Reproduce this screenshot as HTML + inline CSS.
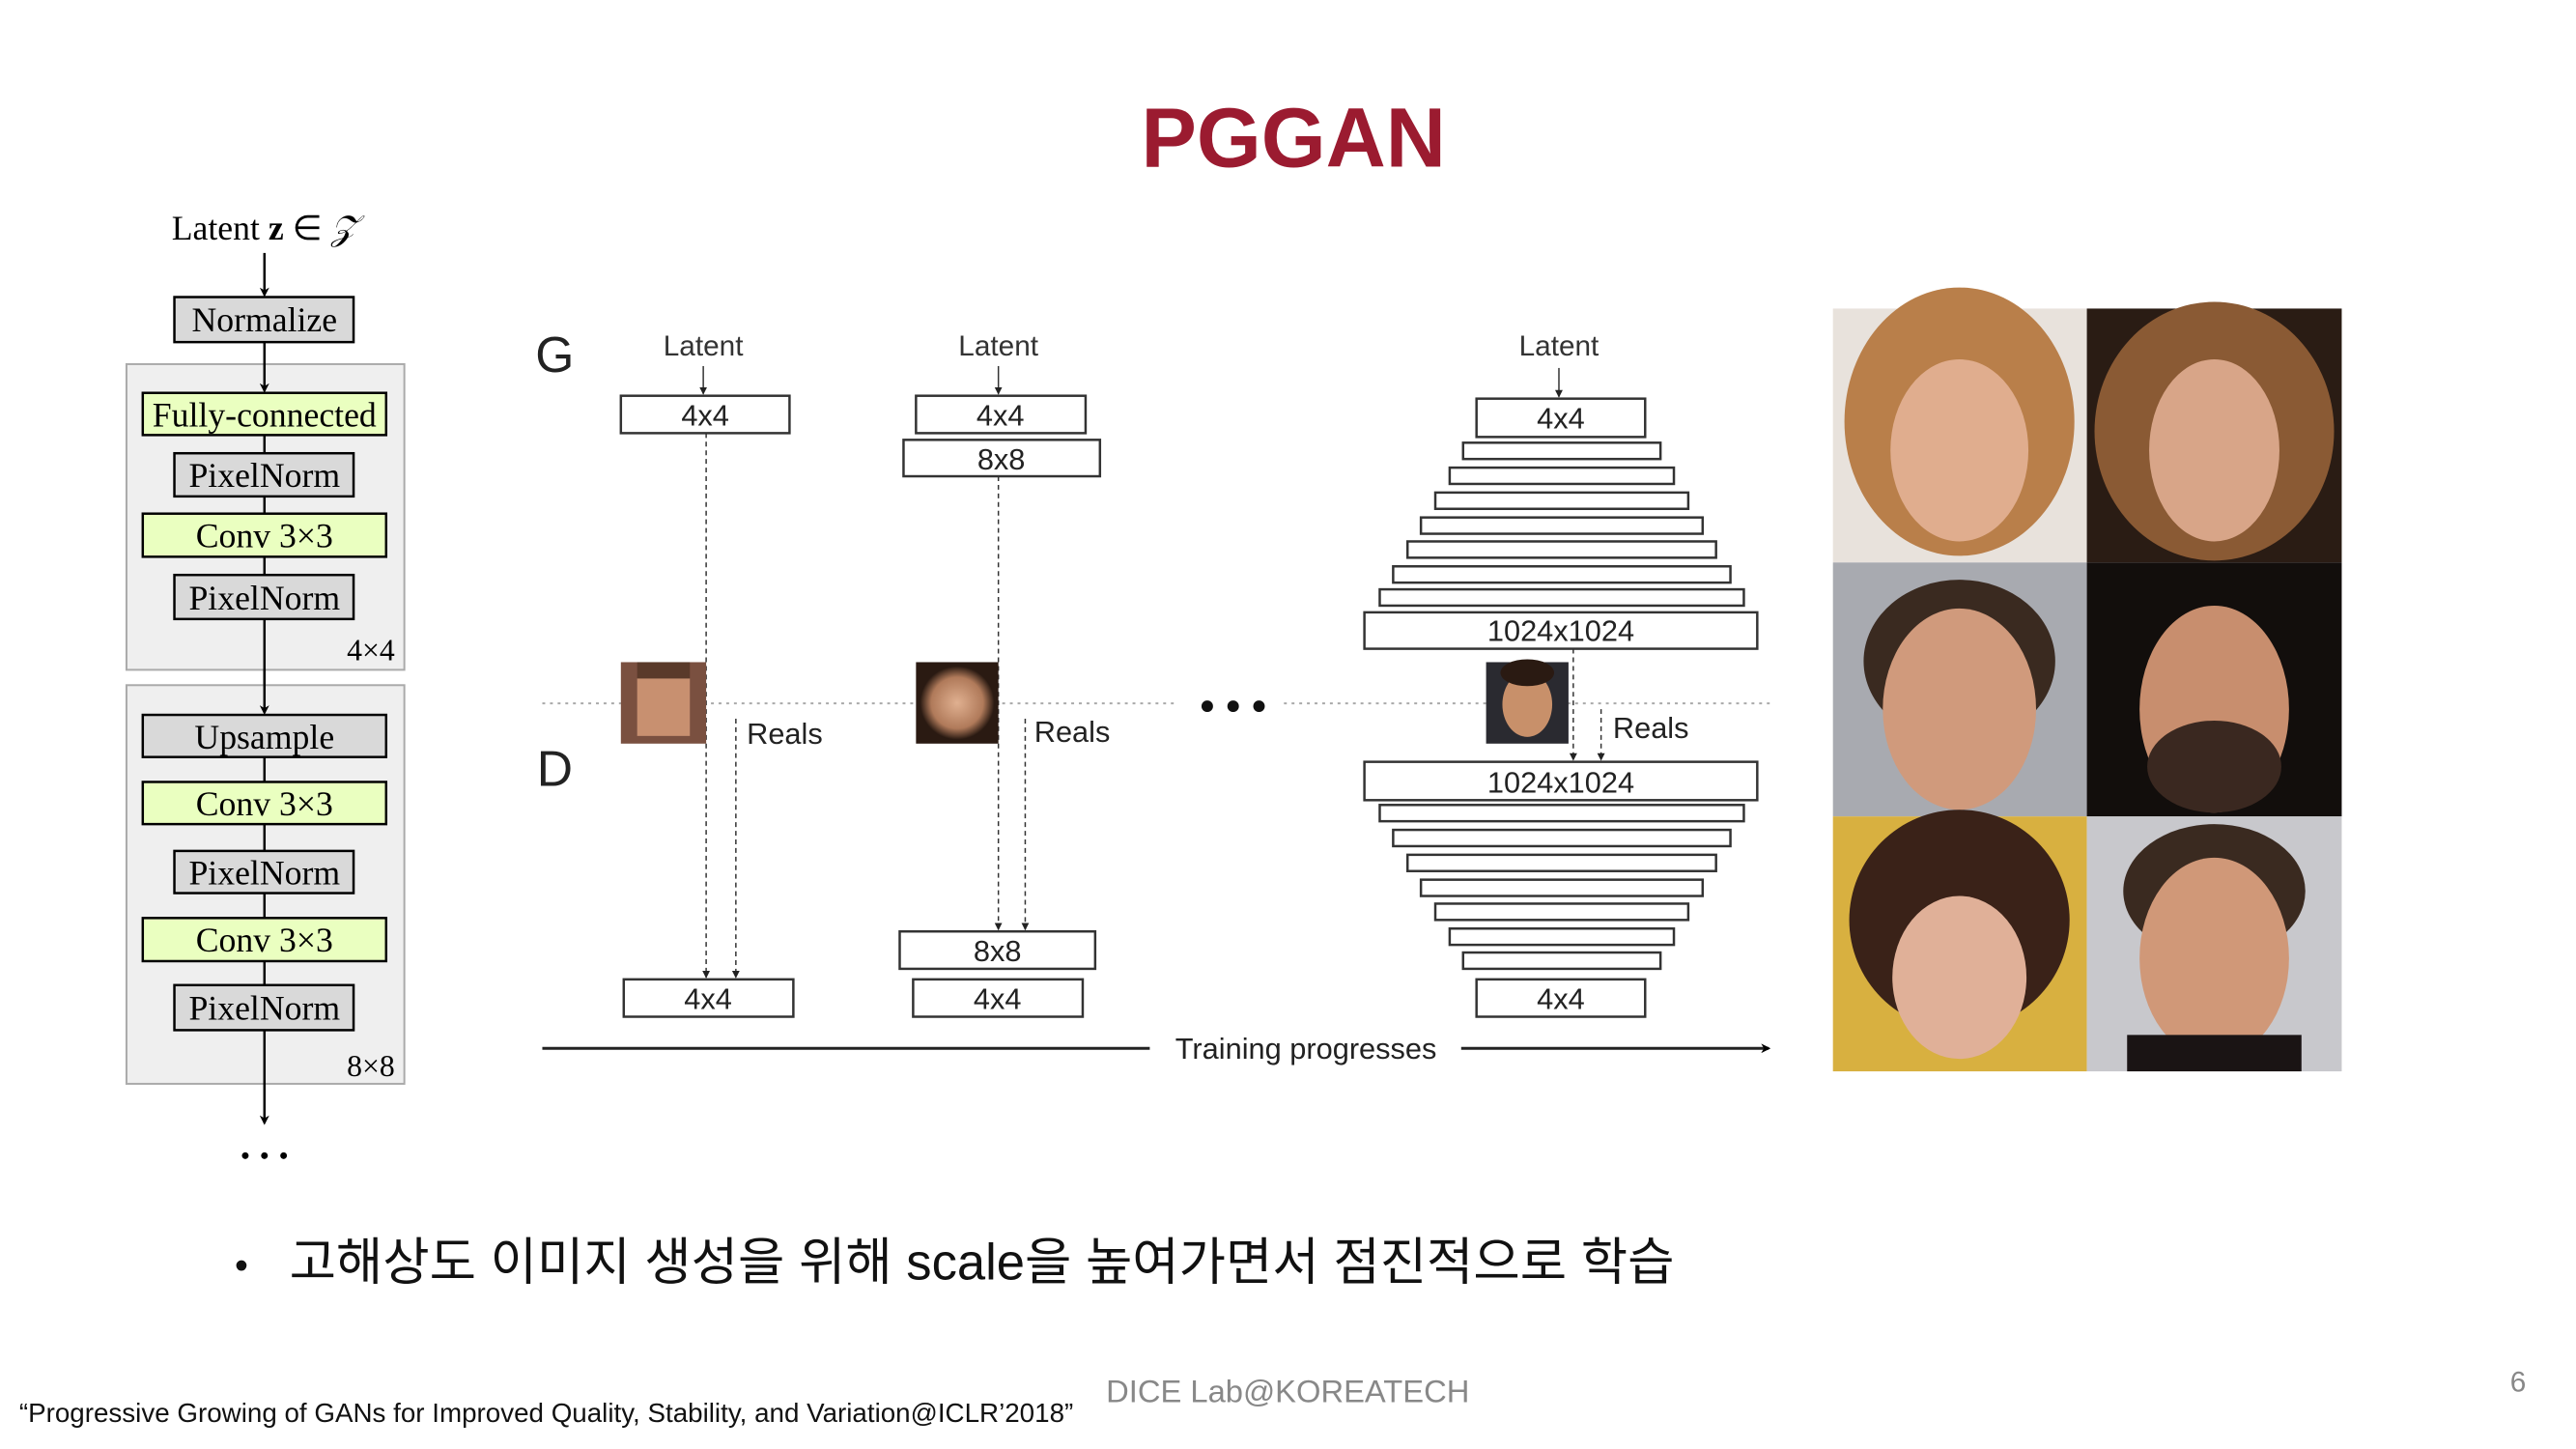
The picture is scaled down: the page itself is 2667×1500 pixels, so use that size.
<!DOCTYPE html>
<html><head><meta charset="utf-8"><style>
html,body{margin:0;padding:0;background:#fff;}
body{width:2667px;height:1500px;overflow:hidden;position:relative;}
svg{position:absolute;left:0;top:0;}
</style></head><body>
<svg width="2667" height="1500" viewBox="0 0 2667 1500" xmlns="http://www.w3.org/2000/svg">
<defs>
<marker id="ar" markerWidth="10" markerHeight="10" refX="8" refY="5" orient="auto" markerUnits="userSpaceOnUse"><path d="M0,0 L10,5 L0,10 L3,5 Z" fill="#000"/></marker>
<marker id="as" markerWidth="8" markerHeight="8" refX="7" refY="4" orient="auto" markerUnits="userSpaceOnUse"><path d="M0,0 L8,4 L0,8 Z" fill="#222"/></marker>
<radialGradient id="fb" cx="50%" cy="50%" r="45%"><stop offset="0" stop-color="#e0b090"/><stop offset="0.7" stop-color="#b07a5a"/><stop offset="1" stop-color="#2a1a12"/></radialGradient>
</defs>
<g transform="scale(0.992)">
<text x="1350" y="174" font-family="Liberation Sans, sans-serif" font-weight="bold" font-size="88" fill="#9b1b30" text-anchor="middle" textLength="318" lengthAdjust="spacingAndGlyphs">PGGAN</text>

<g font-family="Liberation Serif, serif" font-size="36" text-anchor="middle">
<text x="276" y="250">Latent <tspan font-weight="bold">z</tspan> ∈ <tspan font-style="italic">𝒵</tspan></text>
<line x1="276" y1="264" x2="276" y2="308" stroke="#000" stroke-width="2.5" marker-end="url(#ar)"/>
<rect x="182" y="310" width="187" height="47" fill="#d9d9d9" stroke="#000" stroke-width="2.5"/>
<text x="276" y="346">Normalize</text>
<rect x="132" y="380" width="290" height="319" fill="#efefef" stroke="#aaa" stroke-width="2"/>
<line x1="276" y1="357" x2="276" y2="408" stroke="#000" stroke-width="2.5" marker-end="url(#ar)"/>
<line x1="276" y1="454" x2="276" y2="715" stroke="#000" stroke-width="2.5"/>
<rect x="149" y="410" width="254" height="44" fill="#eaffc0" stroke="#000" stroke-width="2.5"/>
<text x="276" y="445">Fully-connected</text>
<rect x="182" y="473" width="187" height="45" fill="#d9d9d9" stroke="#000" stroke-width="2.5"/>
<text x="276" y="508">PixelNorm</text>
<rect x="149" y="536" width="254" height="45" fill="#eaffc0" stroke="#000" stroke-width="2.5"/>
<text x="276" y="571">Conv 3×3</text>
<rect x="182" y="600" width="187" height="46" fill="#d9d9d9" stroke="#000" stroke-width="2.5"/>
<text x="276" y="636">PixelNorm</text>
<text x="387" y="689" font-size="32">4×4</text>
<rect x="132" y="715" width="290" height="416" fill="#efefef" stroke="#aaa" stroke-width="2"/>
<line x1="276" y1="699" x2="276" y2="744" stroke="#000" stroke-width="2.5" marker-end="url(#ar)"/>
<line x1="276" y1="790" x2="276" y2="1131" stroke="#000" stroke-width="2.5"/>
<rect x="149" y="746" width="254" height="44" fill="#d9d9d9" stroke="#000" stroke-width="2.5"/>
<text x="276" y="781">Upsample</text>
<rect x="149" y="816" width="254" height="44" fill="#eaffc0" stroke="#000" stroke-width="2.5"/>
<text x="276" y="851">Conv 3×3</text>
<rect x="182" y="888" width="187" height="44" fill="#d9d9d9" stroke="#000" stroke-width="2.5"/>
<text x="276" y="923">PixelNorm</text>
<rect x="149" y="958" width="254" height="45" fill="#eaffc0" stroke="#000" stroke-width="2.5"/>
<text x="276" y="993">Conv 3×3</text>
<rect x="182" y="1028" width="187" height="47" fill="#d9d9d9" stroke="#000" stroke-width="2.5"/>
<text x="276" y="1064">PixelNorm</text>
<text x="387" y="1123" font-size="32">8×8</text>
<line x1="276" y1="1131" x2="276" y2="1172" stroke="#000" stroke-width="2.5" marker-end="url(#ar)"/>
<circle cx="256" cy="1206" r="3.5"/><circle cx="276" cy="1206" r="3.5"/><circle cx="296" cy="1206" r="3.5"/>
</g>

<g font-family="Liberation Sans, sans-serif" fill="none" stroke="#333" stroke-width="2.5">
<text x="579" y="388" font-size="52" fill="#222" stroke="none" text-anchor="middle">G</text>
<text x="579" y="820" font-size="52" fill="#222" stroke="none" text-anchor="middle">D</text>
<g font-size="30" fill="#333" stroke="none" text-anchor="middle">
<text x="734" y="371">Latent</text><text x="1042" y="371">Latent</text><text x="1627" y="371">Latent</text>
</g>
<line x1="734" y1="382" x2="734" y2="411" stroke-width="1.5" marker-end="url(#as)"/>
<line x1="1042" y1="382" x2="1042" y2="411" stroke-width="1.5" marker-end="url(#as)"/>
<line x1="1627" y1="384" x2="1627" y2="414" stroke-width="1.5" marker-end="url(#as)"/>
<line x1="566" y1="734" x2="1230" y2="734" stroke="#aaa" stroke-width="2" stroke-dasharray="3,5"/>
<line x1="1340" y1="734" x2="1848" y2="734" stroke="#aaa" stroke-width="2" stroke-dasharray="3,5"/>
<circle cx="1260" cy="737" r="6" fill="#111" stroke="none"/><circle cx="1287" cy="737" r="6" fill="#111" stroke="none"/><circle cx="1314" cy="737" r="6" fill="#111" stroke="none"/>
<rect x="648" y="413" width="176" height="39"/>
<line x1="737" y1="452" x2="737" y2="1020" stroke-width="1.5" stroke-dasharray="5,4" marker-end="url(#as)"/>
<line x1="768" y1="750" x2="768" y2="1020" stroke-width="1.5" stroke-dasharray="5,4" marker-end="url(#as)"/>
<rect x="651" y="1022" width="177" height="39"/>
<rect x="956" y="413" width="177" height="39"/>
<rect x="943" y="459" width="205" height="38"/>
<line x1="1042" y1="497" x2="1042" y2="970" stroke-width="1.5" stroke-dasharray="5,4" marker-end="url(#as)"/>
<line x1="1070" y1="750" x2="1070" y2="970" stroke-width="1.5" stroke-dasharray="5,4" marker-end="url(#as)"/>
<rect x="939" y="972" width="204" height="39"/>
<rect x="953" y="1022" width="177" height="39"/>
<rect x="1541" y="416" width="176" height="40"/>
<rect x="1527" y="462" width="206" height="17"/>
<rect x="1513" y="488" width="234" height="17"/>
<rect x="1498" y="514" width="264" height="17"/>
<rect x="1483" y="540" width="294" height="17"/>
<rect x="1469" y="565" width="322" height="17"/>
<rect x="1454" y="591" width="352" height="17"/>
<rect x="1440" y="615" width="380" height="17"/>
<rect x="1424" y="639" width="410" height="38"/>
<line x1="1642" y1="677" x2="1642" y2="793" stroke-width="1.5" stroke-dasharray="5,4" marker-end="url(#as)"/>
<line x1="1671" y1="740" x2="1671" y2="793" stroke-width="1.5" stroke-dasharray="5,4" marker-end="url(#as)"/>
<rect x="1424" y="795" width="410" height="40"/>
<rect x="1440" y="840" width="380" height="17"/>
<rect x="1454" y="866" width="352" height="17"/>
<rect x="1469" y="892" width="322" height="17"/>
<rect x="1483" y="918" width="294" height="17"/>
<rect x="1498" y="943" width="264" height="17"/>
<rect x="1513" y="969" width="234" height="17"/>
<rect x="1527" y="994" width="206" height="17"/>
<rect x="1541" y="1022" width="176" height="39"/>
<g font-size="31" fill="#222" stroke="none" text-anchor="middle">
<text x="736" y="444">4x4</text><text x="1044" y="444">4x4</text><text x="1045" y="490">8x8</text>
<text x="1629" y="447">4x4</text><text x="1629" y="669">1024x1024</text><text x="1629" y="827">1024x1024</text>
<text x="1629" y="1053">4x4</text><text x="739" y="1053">4x4</text><text x="1041" y="1003">8x8</text><text x="1041" y="1053">4x4</text>
<text x="819" y="776">Reals</text><text x="1119" y="774">Reals</text><text x="1723" y="770">Reals</text>
<text x="1363" y="1105">Training progresses</text>
</g>
<line x1="566" y1="1094" x2="1200" y2="1094" stroke="#222" stroke-width="3"/>
<line x1="1525" y1="1094" x2="1846" y2="1094" stroke="#222" stroke-width="3" marker-end="url(#ar)"/>
</g>
<rect x="648" y="691" width="89" height="85" fill="#7a5040"/>
<rect x="665" y="708" width="55" height="60" fill="#c89070"/>
<rect x="665" y="691" width="55" height="17" fill="#5a3a2a"/>
<rect x="956" y="691" width="86" height="85" fill="url(#fb)"/>
<rect x="1551" y="691" width="86" height="85" fill="#2a2a30"/>
<ellipse cx="1594" cy="735" rx="26" ry="34" fill="#c8906a"/>
<ellipse cx="1594" cy="702" rx="28" ry="14" fill="#2a1a12"/>

<g>
<rect x="1913" y="322" width="265" height="265" fill="#e8e2dc"/>
<ellipse cx="2045" cy="440" rx="120" ry="140" fill="#b97f4a"/>
<ellipse cx="2045" cy="470" rx="72" ry="95" fill="#e0ad8e"/>
<rect x="2178" y="322" width="266" height="265" fill="#2a1c14"/>
<ellipse cx="2311" cy="450" rx="125" ry="135" fill="#8a5a34"/>
<ellipse cx="2311" cy="470" rx="68" ry="95" fill="#d8a588"/>
<rect x="1913" y="587" width="265" height="265" fill="#a8aab0"/>
<ellipse cx="2045" cy="690" rx="100" ry="85" fill="#3a2a20"/>
<ellipse cx="2045" cy="740" rx="80" ry="105" fill="#d09a7c"/>
<rect x="2178" y="587" width="266" height="265" fill="#120e0c"/>
<ellipse cx="2311" cy="740" rx="78" ry="108" fill="#c88e6e"/>
<ellipse cx="2311" cy="800" rx="70" ry="48" fill="#3a2820"/>
<rect x="1913" y="852" width="265" height="266" fill="#d8b040"/>
<ellipse cx="2045" cy="960" rx="115" ry="115" fill="#3a2218"/>
<ellipse cx="2045" cy="1020" rx="70" ry="85" fill="#e0b098"/>
<rect x="2178" y="852" width="266" height="266" fill="#c8c8cc"/>
<ellipse cx="2311" cy="930" rx="95" ry="70" fill="#3a2a20"/>
<ellipse cx="2311" cy="1000" rx="78" ry="105" fill="#d09878"/>
<rect x="2220" y="1080" width="182" height="38" fill="#1a1414"/>
</g>

<g font-family="Liberation Sans, 'Noto Sans CJK KR', sans-serif">
<text x="245" y="1334" font-size="40" fill="#111">•</text>
<text x="302" y="1335" font-size="53" fill="#111">고해상도 이미지 생성을 위해 scale을 높여가면서 점진적으로 학습</text>
<text x="20" y="1484" font-size="28" fill="#111">“Progressive Growing of GANs for Improved Quality, Stability, and Variation@ICLR’2018”</text>
<text x="1344" y="1463" font-size="33" fill="#888" text-anchor="middle">DICE Lab@KOREATECH</text>
<text x="2628" y="1452" font-size="30" fill="#888" text-anchor="middle">6</text>
</g>
</g>
</svg>
</body></html>
